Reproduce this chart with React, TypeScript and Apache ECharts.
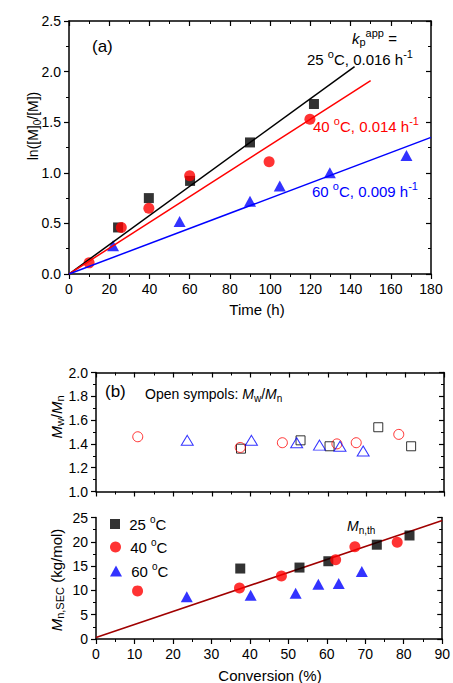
import React, { useEffect, useRef } from "react";
import * as echarts from "echarts";

const FONT = "'Liberation Sans'";

// ---- Panel (a): kinetics ----
const time25 = [24.4, 39.7, 60.2, 90, 121.8];
const ln25 = [0.46, 0.75, 0.92, 1.3, 1.68];
const time40 = [10, 26, 39.7, 60, 99.5, 119.8];
const ln40 = [0.11, 0.46, 0.65, 0.97, 1.11, 1.53];
const time60 = [21.9, 55, 90, 104.8, 129.7, 167.8];
const ln60 = [0.28, 0.52, 0.72, 0.87, 1.0, 1.17];
const fitTime25 = [0, 142];
const fitLn25 = [0, 2.05];
const fitTime40 = [0, 150];
const fitLn40 = [0, 1.91];
const fitTime60 = [0, 180];
const fitLn60 = [0, 1.35];

// ---- Panel (b): Mw/Mn and Mn vs conversion ----
const conv25 = [37.5, 52.9, 60.4, 73, 81.5];
const pdi25 = [1.36, 1.43, 1.38, 1.54, 1.38];
const mn25 = [14.5, 14.7, 16.0, 19.4, 21.3];
const conv40 = [10.8, 37.3, 48.2, 62.3, 67.3, 78.3];
const pdi40 = [1.46, 1.37, 1.41, 1.4, 1.41, 1.48];
const mn40 = [9.9, 10.5, 12.95, 16.3, 19.0, 19.9];
const conv60 = [23.6, 40.2, 51.9, 57.8, 63.1, 69.1];
const pdi60 = [1.43, 1.43, 1.41, 1.39, 1.38, 1.34];
const mn60 = [8.7, 9.0, 9.4, 11.25, 11.4, 13.9];
const convTh = [0, 90];
const mnTh = [0.3, 24.4];

const legendNames = ["25 °C", "40 °C", "60 °C"];

const zip = (xs: number[], ys: number[]) => xs.map((x, i) => [x, ys[i]]);

const rich = (size: number, color: string) => {
  const s = Math.round(size * 0.72);
  return {
    r: { fontSize: size, fontFamily: FONT, fill: color, color },
    i: { fontSize: size, fontFamily: FONT, fontStyle: "italic", fill: color, color },
    sup: { fontSize: s, fontFamily: FONT, fill: color, color, padding: [0, 0, Math.round(size * 0.7), 0] },
    sub: { fontSize: s, fontFamily: FONT, fill: color, color, padding: [Math.round(size * 0.55), 0, 0, 0] },
  };
};

const txt = (
  x: number,
  y: number,
  text: string,
  size: number,
  color = "#000",
  align = "left",
  rotation = 0
) => ({
  type: "text",
  x,
  y,
  rotation,
  z: 100,
  style: {
    text,
    fontSize: size,
    fontFamily: FONT,
    fill: color,
    rich: rich(size, color),
    align,
    verticalAlign: "middle",
  },
});

const AXIS_LINE = { show: true, onZero: false, lineStyle: { color: "#000", width: 1.5 } };
const LABEL = { fontSize: 14, fontFamily: FONT, color: "#000" };

function mainAxis(gridIndex: number, position: string, min: number, max: number, interval: number, labels: boolean, fmt?: (v: number) => string) {
  return {
    type: "value",
    gridIndex,
    position,
    min,
    max,
    interval,
    axisLine: AXIS_LINE,
    axisTick: { show: true, inside: false, length: 5, lineStyle: { color: "#000", width: 1.2 } },
    minorTick: { show: true, splitNumber: 2, length: 3, lineStyle: { color: "#000", width: 1 } },
    axisLabel: labels ? { show: true, margin: 8, ...LABEL, formatter: fmt } : { show: false },
    splitLine: { show: false },
    minorSplitLine: { show: false },
  };
}

function mirrorAxis(gridIndex: number, position: string, min: number, max: number, interval: number) {
  return {
    type: "value",
    gridIndex,
    position,
    min,
    max,
    interval,
    axisLine: AXIS_LINE,
    axisTick: { show: true, inside: true, length: 5, lineStyle: { color: "#000", width: 1.2 } },
    minorTick: { show: true, splitNumber: 2, length: 3, lineStyle: { color: "#000", width: 1 } },
    axisLabel: { show: false },
    splitLine: { show: false },
    minorSplitLine: { show: false },
  };
}

const scatter = (name: string, xi: number, yi: number, data: number[][], symbol: string, size: any, color: string, open = false) => ({
  type: "scatter",
  name,
  xAxisIndex: xi,
  yAxisIndex: yi,
  data,
  symbol,
  symbolSize: size,
  z: 3,
  itemStyle: open
    ? { color: "rgba(255,255,255,0)", borderColor: color, borderWidth: 1 }
    : { color, borderWidth: 0 },
  emphasis: { disabled: true },
});

const line = (name: string, xi: number, yi: number, data: number[][], color: string, z: number) => ({
  type: "line",
  name,
  xAxisIndex: xi,
  yAxisIndex: yi,
  data,
  showSymbol: false,
  symbol: "none",
  z,
  lineStyle: { color, width: 1.5 },
  emphasis: { disabled: true },
});

export default function App() {
  const ref = useRef<HTMLDivElement>(null);
  useEffect(() => {
    if (!ref.current) return;
    const chart = echarts.init(ref.current, null, { renderer: "svg" });
    const legendFmt = (name: string) => " " + name.replace(" °C", " {s|o}C");
    const legendText = {
      fontSize: 15,
      fontFamily: FONT,
      color: "#000",
      rich: { s: { fontSize: 10, fontFamily: FONT, color: "#000", padding: [0, 0, 10, 0] } },
    };
    const legendItem = (name: string, icon: string, top: number, w: number, h: number) => ({
      data: [{ name, icon }],
      left: 110,
      top,
      padding: 0,
      itemWidth: w,
      itemHeight: h,
      formatter: legendFmt,
      textStyle: legendText,
      selectedMode: false,
    });

    chart.setOption({
      animation: false,
      backgroundColor: "#fff",
      textStyle: { fontFamily: FONT },
      grid: [
        { left: 69, top: 21, width: 362, height: 253 },
        { left: 96, top: 372.5, width: 348, height: 119 },
        { left: 96, top: 517.5, width: 348, height: 121.5 },
      ],
      xAxis: [
        mainAxis(0, "bottom", 0, 180, 20, true),
        mirrorAxis(0, "top", 0, 180, 20),
        mainAxis(1, "bottom", 0, 90, 10, false),
        mirrorAxis(1, "top", 0, 90, 10),
        mainAxis(2, "bottom", 0, 90, 10, true),
      ],
      yAxis: [
        mainAxis(0, "left", 0, 2.5, 0.5, true, (v: number) => v.toFixed(1)),
        mirrorAxis(0, "right", 0, 2.5, 0.5),
        mainAxis(1, "left", 1.0, 2.0, 0.2, true, (v: number) => v.toFixed(1)),
        mirrorAxis(1, "right", 1.0, 2.0, 0.2),
        mainAxis(2, "left", 0, 25, 5, true),
        mirrorAxis(2, "right", 0, 25, 5),
      ],
      legend: [
        legendItem(legendNames[0], "rect", 514, 10, 10),
        legendItem(legendNames[1], "circle", 537, 11, 11),
        legendItem(legendNames[2], "triangle", 561, 12, 11),
      ],
      series: [
        // panel (a)
        scatter("a25", 0, 0, zip(time25, ln25), "rect", 10, "#000"),
        scatter("a40", 0, 0, zip(time40, ln40), "circle", 11, "#ff0000"),
        scatter("a60", 0, 0, zip(time60, ln60), "triangle", [12, 11], "#0000ff"),
        line("fit25", 0, 0, zip(fitTime25, fitLn25), "#000", 5),
        line("fit40", 0, 0, zip(fitTime40, fitLn40), "#ff0000", 5),
        line("fit60", 0, 0, zip(fitTime60, fitLn60), "#0000ff", 5),
        // panel (b) top: Mw/Mn open symbols
        scatter("p25", 2, 2, zip(conv25, pdi25), "rect", 9, "#000", true),
        scatter("p40", 2, 2, zip(conv40, pdi40), "circle", 10, "#ff0000", true),
        scatter("p60", 2, 2, zip(conv60, pdi60), "triangle", [12, 10], "#0000ff", true),
        // panel (b) bottom: Mn
        line("th", 4, 4, zip(convTh, mnTh), "#a00000", 2),
        scatter(legendNames[0], 4, 4, zip(conv25, mn25), "rect", 10, "#000"),
        scatter(legendNames[1], 4, 4, zip(conv40, mn40), "circle", 11, "#ff0000"),
        scatter(legendNames[2], 4, 4, zip(conv60, mn60), "triangle", [12, 11], "#0000ff"),
      ],
      graphic: [
        txt(92, 46, "(a)", 17),
        txt(352, 38, "{i|k}{sub|p}{sup|app} =", 15),
        txt(307, 59, "25 {sup|o}C, 0.016 h{sup|-1}", 15),
        txt(313, 126, "40 {sup|o}C, 0.014 h{sup|-1}", 15, "#ff0000"),
        txt(312, 191, "60 {sup|o}C, 0.009 h{sup|-1}", 15, "#0000ff"),
        txt(33, 126, "ln([M]{sub|0}/[M])", 14, "#000", "center", Math.PI / 2),
        txt(257, 309, "Time (h)", 15, "#000", "center"),
        txt(105, 391, "(b)", 17),
        txt(145, 394, "Open sympols: {i|M}{sub|w}/{i|M}{sub|n}", 14),
        txt(56, 417, "{i|M}{sub|w}/{i|M}{sub|n}", 15, "#000", "center", Math.PI / 2),
        txt(56, 580, "{i|M}{sub|n,SEC} (kg/mol)", 15, "#000", "center", Math.PI / 2),
        txt(347, 526, "{i|M}{sub|n,th}", 14),
        txt(270, 675, "Conversion (%)", 15, "#000", "center"),
      ],
    });
    return () => chart.dispose();
  }, []);
  return (
    <div
      ref={ref}
      style={{ position: "absolute", left: 0, top: 0, width: 453, height: 683, background: "#fff" }}
    />
  );
}
